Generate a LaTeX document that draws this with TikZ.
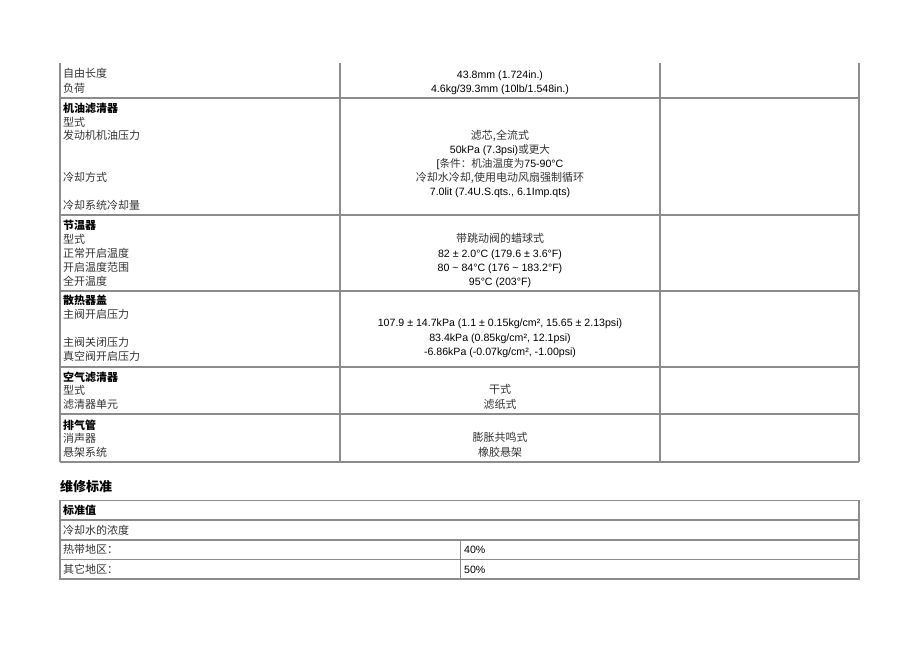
\documentclass[tikz,border=0pt]{standalone}
\usepackage{fontspec}
\setmainfont{Liberation Sans}
\newfontfamily\cjk{Noto Sans CJK SC}
\definecolor{rulegray}{HTML}{8C8C8C}
\definecolor{cjkgray}{HTML}{333333}
\newcommand\zhtxt[1]{{\cjk\color{cjkgray}#1}}
\begin{document}
\begin{tikzpicture}[x=1pt,y=-1pt,
  gridline/.style={draw=rulegray,line width=1.2pt},
  lab/.style={anchor=west,inner sep=0pt,text height=8.4pt,text depth=0pt,font=\cjk\fontsize{11}{11}\selectfont,text=cjkgray},
  hdr/.style={anchor=west,inner sep=0pt,text height=8.4pt,text depth=0pt,font=\cjk\bfseries\fontsize{11}{11}\selectfont,text=black},
  val/.style={anchor=center,inner sep=0pt,text height=8.4pt,text depth=0pt,font=\fontsize{10.6}{11}\selectfont,text=black},
  cval/.style={val,font=\cjk\fontsize{11}{11}\selectfont,text=cjkgray},
  lval/.style={anchor=west,inner sep=0pt,text height=8.4pt,text depth=0pt,font=\fontsize{10.6}{11}\selectfont,text=black}]
\useasboundingbox[fill=white] (0,0) rectangle (920,651);

% ---------- top table grid ----------
\foreach \xx in {60,340,660,859} \draw[gridline] (\xx,63) -- (\xx,462);
\foreach \yy in {98,215,291,367,414,462} \draw[gridline] (60,\yy) -- (859,\yy);

% ---------- row 1 ----------
\node[lab] (l1) at (63,73) {自由长度};
\node[lab] (l2) at (63,88) {负荷};
\node[val] (v1) at (500,74) {43.8mm (1.724in.)};
\node[val] (v2) at (500,88.5) {4.6kg/39.3mm (10lb/1.548in.)};

% ---------- oil filter / cooling ----------
\node[hdr] (h1) at (63,108) {机油滤清器};
\node[lab] (l3) at (63,122) {型式};
\node[lab] (l4) at (63,135.5) {发动机机油压力};
\node[lab] (l5) at (63,177) {冷却方式};
\node[lab] (l6) at (63,205) {冷却系统冷却量};
\node[cval] (v3) at (500,135) {滤芯,全流式};
\node[val] (v4) at (500,149) {50kPa (7.3psi)\zhtxt{或更大}};
\node[val] (v5) at (500,163) {[\zhtxt{条件：机油温度为}75-90°C};
\node[cval] (v6) at (500,177) {冷却水冷却,使用电动风扇强制循环};
\node[val] (v7) at (500,191.5) {7.0lit (7.4U.S.qts., 6.1Imp.qts)};

% ---------- thermostat ----------
\node[hdr] (h2) at (63,225) {节温器};
\node[lab] (l7) at (63,239) {型式};
\node[lab] (l8) at (63,253) {正常开启温度};
\node[lab] (l9) at (63,267) {开启温度范围};
\node[lab] (l10) at (63,281) {全开温度};
\node[cval] (v8) at (500,238.5) {带跳动阀的蜡球式};
\node[val] (v9) at (500,253) {82 ± 2.0°C (179.6 ± 3.6°F)};
\node[val] (v10) at (500,267) {80 \textasciitilde{} 84°C (176 \textasciitilde{} 183.2°F)};
\node[val] (v11) at (500,281) {95°C (203°F)};

% ---------- radiator cap ----------
\node[hdr] (h3) at (63,300) {散热器盖};
\node[lab] (l11) at (63,314) {主阀开启压力};
\node[lab] (l12) at (63,342) {主阀关闭压力};
\node[lab] (l13) at (63,356) {真空阀开启压力};
\node[val] (v12) at (500,322.5) {107.9 ± 14.7kPa (1.1 ± 0.15kg/cm², 15.65 ± 2.13psi)};
\node[val] (v13) at (500,337) {83.4kPa (0.85kg/cm², 12.1psi)};
\node[val] (v14) at (500,351) {-6.86kPa (-0.07kg/cm², -1.00psi)};

% ---------- air filter ----------
\node[hdr] (h4) at (63,377) {空气滤清器};
\node[lab] (l14) at (63,390) {型式};
\node[lab] (l15) at (63,404) {滤清器单元};
\node[cval] (v15) at (500,389.5) {干式};
\node[cval] (v16) at (500,404) {滤纸式};

% ---------- exhaust ----------
\node[hdr] (h5) at (63,425) {排气管};
\node[lab] (l16) at (63,438.5) {消声器};
\node[lab] (l17) at (63,452) {悬架系统};
\node[cval] (v17) at (500,437.5) {膨胀共鸣式};
\node[cval] (v18) at (500,452) {橡胶悬架};

% ---------- heading ----------
\node[anchor=west,inner sep=0pt,text height=10pt,text depth=0pt,font=\cjk\bfseries\fontsize{13}{13}\selectfont] (title) at (60,486) {维修标准};

% ---------- bottom table ----------
\draw[gridline] (60,500.5) rectangle (859,579);
\foreach \yy in {520,540,559.5} \draw[gridline] (60,\yy) -- (859,\yy);
\draw[gridline] (460.5,540) -- (460.5,579);
\node[hdr] (b1) at (63,510) {标准值};
\node[lab] (b2) at (63,530) {冷却水的浓度};
\node[lab] (b3) at (63,549.5) {热带地区：};
\node[lab] (b4) at (63,569) {其它地区：};
\node[lval] (b5) at (464,549.5) {40\%};
\node[lval] (b6) at (464,569) {50\%};
\end{tikzpicture}
\end{document}
